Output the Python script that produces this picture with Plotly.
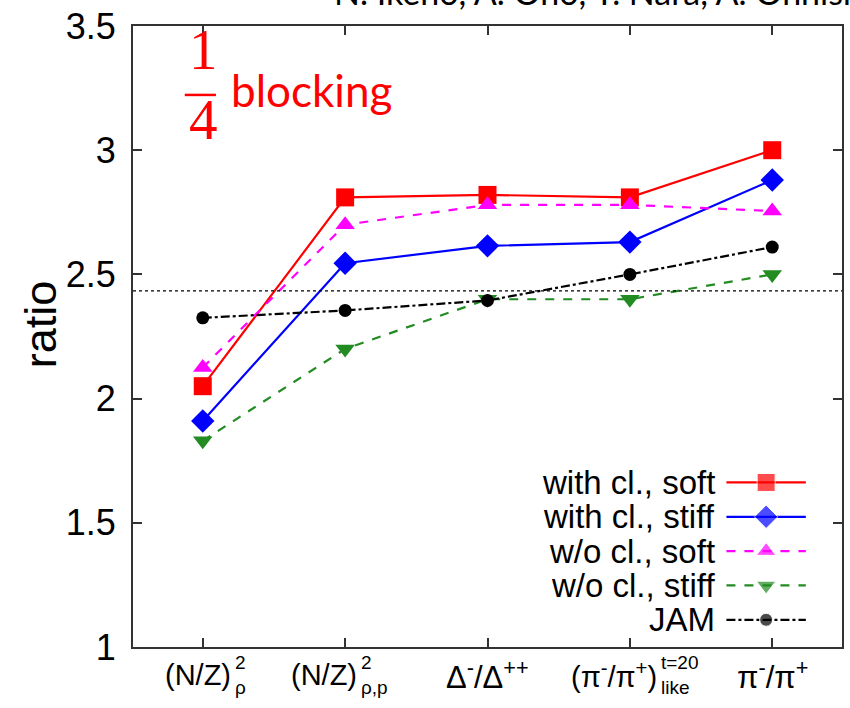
import plotly.graph_objects as go

# Observables along the x axis (base text + stacked super/subscript)
cat_base = ["(N/Z)", "(N/Z)", "Δ<sup>-</sup>/Δ<sup>++</sup>",
            "(π<sup>-</sup>/π<sup>+</sup>)", "π<sup>-</sup>/π<sup>+</sup>"]
cat_script = ["2<br>ρ", "2<br>ρ,p", "", "t=20<br>like", ""]

# Ratio values for each model
with_cl_soft = [2.05, 2.81, 2.82, 2.81, 3.00]
with_cl_stiff = [1.91, 2.545, 2.615, 2.63, 2.88]
wo_cl_soft = [2.125, 2.70, 2.78, 2.78, 2.755]
wo_cl_stiff = [1.83, 2.20, 2.40, 2.40, 2.50]
jam = [2.325, 2.355, 2.395, 2.50, 2.61]

reference_ratio = 2.434

y_ticks = [1, 1.5, 2, 2.5, 3, 3.5]
y_ticktext = ["1", "1.5", "2", "2.5", "3", "3.5"]

series = [
    ("with cl., soft", with_cl_soft, "#ff0000", "solid", "square", 18),
    ("with cl., stiff", with_cl_stiff, "#0000ff", "solid", "diamond", 18),
    ("w/o cl., soft", wo_cl_soft, "#ff00ff", "dash", "triangle-up", 17),
    ("w/o cl., stiff", wo_cl_stiff, "#228b22", "dash", "triangle-down", 17),
    ("JAM", jam, "#000000", "dashdot", "circle", 13),
]

xs = list(range(len(cat_base)))

fig = go.Figure()
for name, vals, color, dash, symbol, size in series:
    fig.add_trace(go.Scatter(
        x=xs, y=vals, mode="lines+markers", name=name, showlegend=False,
        line=dict(color=color, width=2.2, dash=dash),
        marker=dict(symbol=symbol, size=size, color=color),
    ))

# Hand-built key: label on the left, line sample on the right
key_top = 0.265
key_step = 0.0553
key_x = [0.837, 0.893, 0.949]
for k, (name, vals, color, dash, symbol, size) in enumerate(series):
    yk = key_top - k * key_step
    fig.add_trace(go.Scatter(
        x=key_x, y=[yk] * 3, xaxis="x2", yaxis="y2", mode="lines+markers",
        showlegend=False, hoverinfo="skip",
        line=dict(color=color, width=2.2, dash=dash),
        marker=dict(symbol=symbol, size=[0, size, 0], color=color),
    ))
    fig.add_annotation(
        xref="paper", yref="paper", x=0.824, y=yk, xanchor="right",
        yanchor="middle", text=name, showarrow=False,
        font=dict(family="Liberation Sans, Arial", size=33, color="black"),
    )

# Horizontal reference level
fig.add_shape(type="line", xref="paper", yref="y", x0=0, x1=1,
              y0=reference_ratio, y1=reference_ratio,
              line=dict(color="black", width=1.2, dash="dot"))

# x tick labels with stacked scripts
label_font = dict(family="Liberation Sans, Arial", size=29, color="black")
script_font = dict(family="Liberation Sans, Arial", size=19, color="black")
label_y = -0.045
shifts = [30, 14, 0, 29, 0]
for i, (base, script) in enumerate(zip(cat_base, cat_script)):
    if script:
        fig.add_annotation(xref="x", yref="paper", x=xs[i], y=label_y,
                           xshift=shifts[i], xanchor="right", yanchor="middle",
                           text=base, showarrow=False, font=label_font)
        fig.add_annotation(xref="x", yref="paper", x=xs[i], y=label_y,
                           xshift=shifts[i], xanchor="left", yanchor="middle",
                           text=script, showarrow=False, align="left",
                           font=script_font)
    else:
        fig.add_annotation(xref="x", yref="paper", x=xs[i], y=label_y,
                           xanchor="center", yanchor="middle",
                           text=base, showarrow=False,
                           font=dict(label_font, size=31))

# y axis title
fig.add_annotation(xref="paper", yref="paper", x=-0.131, y=0.520,
                   text="ratio", textangle=-90, showarrow=False,
                   xanchor="center", yanchor="middle",
                   font=dict(family="Liberation Sans, Arial", size=45, color="black"))

# "1/4 blocking" tag
serif = dict(family="Liberation Serif, DejaVu Serif", size=57, color="#ff0000")
fig.add_annotation(xref="paper", yref="paper", x=0.099, y=0.962,
                   text="1", showarrow=False, xanchor="center", yanchor="middle",
                   font=serif)
fig.add_annotation(xref="paper", yref="paper", x=0.099, y=0.850,
                   text="4", showarrow=False, xanchor="center", yanchor="middle",
                   font=serif)
fig.add_shape(type="line", xref="paper", yref="paper", x0=0.073, x1=0.117,
              y0=0.889, y1=0.889, line=dict(color="#ff0000", width=2.5))
fig.add_annotation(xref="paper", yref="paper", x=0.135, y=0.897,
                   text="blocking", showarrow=False, xanchor="left",
                   yanchor="middle",
                   font=dict(family="Lato, Carlito, Open Sans", size=44, color="#ff0000"))

# Author line running off the top edge
fig.add_annotation(xref="paper", yref="paper", x=0.280, y=1.056,
                   text="N. Ikeno, A. Ono, Y. Nara, A. Ohnishi", showarrow=False,
                   xanchor="left", yanchor="middle",
                   font=dict(family="Lato, Open Sans", size=34, color="black"))

axis_common = dict(showline=True, linecolor="#333333", linewidth=2,
                   mirror="ticks", ticks="inside", ticklen=9,
                   tickcolor="#333333", tickwidth=1.5, showgrid=False,
                   zeroline=False)

fig.update_layout(
    width=850, height=708,
    margin=dict(l=133, r=6, t=24, b=61),
    paper_bgcolor="white", plot_bgcolor="white",
    xaxis=dict(range=[-0.49, 4.49], tickvals=xs, showticklabels=False,
               **axis_common),
    yaxis=dict(range=[1, 3.5], tickvals=y_ticks, ticktext=y_ticktext,
               tickfont=dict(family="Liberation Sans, Arial", size=36, color="black"),
               ticklabelstandoff=8, **axis_common),
    xaxis2=dict(overlaying="x", range=[0, 1], visible=False),
    yaxis2=dict(overlaying="y", range=[0, 1], visible=False),
)

fig.write_html("out.html")
